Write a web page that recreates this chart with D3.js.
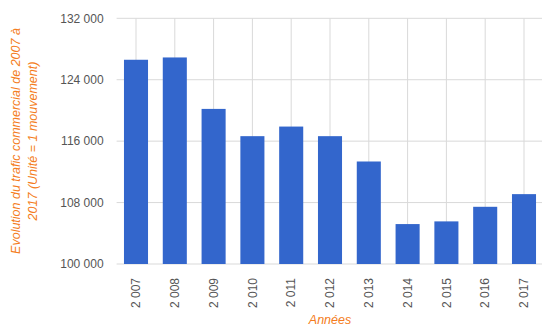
<!DOCTYPE html>
<html><head><meta charset="utf-8">
<script src="https://cdn.jsdelivr.net/npm/d3@7"></script>
<style>body{margin:0;background:#fff;}svg{display:block;font-family:Arial,"Liberation Sans",sans-serif;}</style>
</head><body>
<svg id="c" width="542" height="329"></svg>
<script>
const years = ["2 007","2 008","2 009","2 010","2 011","2 012","2 013","2 014","2 015","2 016","2 017"];
const values = [126600,126900,120200,116650,117900,116650,113350,105200,105550,107450,109100];
const yTicks = [100000,108000,116000,124000,132000];
const yTitle = ["Evolution du trafic commercial de 2007 à","2017 (Unité = 1 mouvement)"];
const xTitle = "Années";

const svg = d3.select("#c");
const pL = 116.6, pR = 543.4, pT = 18.3, pB = 264;
const x = d3.scaleBand().domain(years).range([pL,pR]).paddingInner(0.38).paddingOuter(0.19);
const y = d3.scaleLinear().domain([100000,132000]).range([pB,pT]);
const fmt = v => d3.format(",")(v).replace(/,/g," ");

// horizontal grid
svg.append("g").selectAll("line").data(yTicks).join("line")
  .attr("x1",pL).attr("x2",pR).attr("y1",d=>y(d)).attr("y2",d=>y(d))
  .attr("stroke","#d9d9d9").attr("stroke-width",1);
// vertical grid
svg.append("g").selectAll("line").data(years).join("line")
  .attr("x1",d=>x(d)+x.bandwidth()/2).attr("x2",d=>x(d)+x.bandwidth()/2)
  .attr("y1",pT).attr("y2",pB)
  .attr("stroke","#d9d9d9").attr("stroke-width",1);

// bars
svg.append("g").selectAll("rect").data(values).join("rect")
  .attr("x",(d,i)=>x(years[i])).attr("width",x.bandwidth())
  .attr("y",d=>y(d)).attr("height",d=>pB-y(d))
  .attr("fill","#3366cc");

// y axis
const ya = svg.append("g").attr("transform",`translate(${pL},0)`)
  .call(d3.axisLeft(y).tickValues(yTicks).tickFormat(fmt).tickSize(0).tickPadding(13));
ya.select(".domain").remove();
ya.selectAll("text").attr("fill","#555").attr("font-size",12).attr("font-family","Arial,'Liberation Sans',sans-serif");

// x axis
const xa = svg.append("g").attr("transform",`translate(0,${pB})`)
  .call(d3.axisBottom(x).tickSize(0));
xa.select(".domain").remove();
xa.selectAll("text").attr("fill","#555").attr("font-size",12).attr("font-family","Arial,'Liberation Sans',sans-serif")
  .attr("transform","rotate(-90)").attr("text-anchor","end")
  .attr("x",-14).attr("y",0).attr("dy","0.35em");

// titles
const tg = svg.append("g").attr("transform","translate(20,141) rotate(-90)");
tg.selectAll("text").data(yTitle).join("text")
  .attr("x",0).attr("y",(d,i)=>i*17).attr("text-anchor","middle")
  .attr("fill","#f47c20").attr("font-size",12.5).attr("font-style","italic")
  .text(d=>d);
svg.append("text").attr("x",(pL+pR)/2).attr("y",324).attr("text-anchor","middle")
  .attr("fill","#f47c20").attr("font-size",12.5).attr("font-style","italic").text(xTitle);
</script>
</body></html>
